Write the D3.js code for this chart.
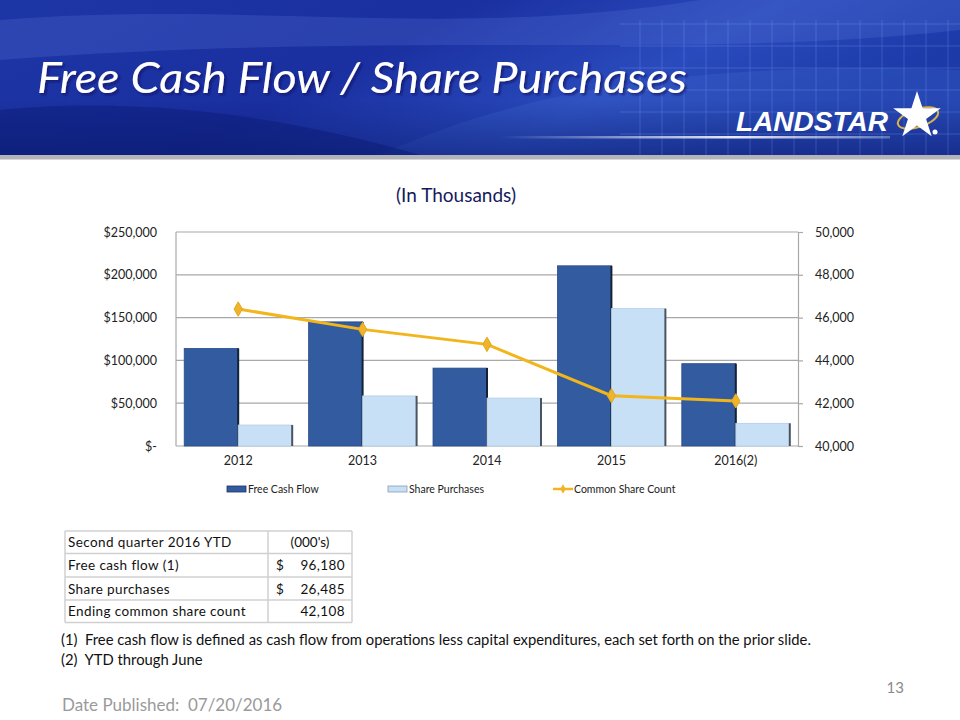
<!DOCTYPE html>
<html>
<head>
<meta charset="utf-8">
<script src="https://cdn.jsdelivr.net/npm/d3@7"></script>
<style>
  body { margin: 0; background: #fff; }
  svg { display: block; font-family: Lato, "Open Sans", sans-serif; }
</style>
</head>
<body>
<svg id="slide" width="960" height="720"></svg>
<script>
// chart data (thousands)
var years = ['2012', '2013', '2014', '2015', '2016(2)']
var freeCashFlow = [114000, 145000, 91000, 210500, 96180]
var sharePurchases = [24500, 58500, 56000, 160500, 26485]
var shareCount = [46400, 45450, 44750, 42350, 42108]
var leftTicks = [0, 50000, 100000, 150000, 200000, 250000]
var rightTicks = [40000, 42000, 44000, 46000, 48000, 50000]
var seriesNames = ['Free Cash Flow', 'Share Purchases', 'Common Share Count']

var tableRows = [
    ['Second quarter 2016 YTD', '', "(000's)"],
    ['Free cash flow (1)', '$', '96,180'],
    ['Share purchases', '$', '26,485'],
    ['Ending common share count', '', '42,108']
]
var footnotes = [
    '(1)  Free cash flow is defined as cash flow from operations less capital expenditures, each set forth on the prior slide.',
    '(2)  YTD through June'
]

var svg = d3.select('#slide')
var defs = svg.append('defs')

// ---------- header ----------
var hg = defs.append('linearGradient').attr('id', 'hdr')
    .attr('x1', 0).attr('y1', 0).attr('x2', 1).attr('y2', 0.3)
hg.append('stop').attr('offset', 0).attr('stop-color', '#1d36a6')
hg.append('stop').attr('offset', 0.45).attr('stop-color', '#1a2fa0')
hg.append('stop').attr('offset', 0.75).attr('stop-color', '#2a4bbd')
hg.append('stop').attr('offset', 1).attr('stop-color', '#1c3aa8')

var sh = defs.append('linearGradient').attr('id', 'shade')
    .attr('x1', 0).attr('y1', 0).attr('x2', 0).attr('y2', 1)
sh.append('stop').attr('offset', 0).attr('stop-color', '#0a1a70').attr('stop-opacity', 0)
sh.append('stop').attr('offset', 1).attr('stop-color', '#0a1a70').attr('stop-opacity', 0.55)

var glow = defs.append('linearGradient').attr('id', 'glow')
glow.append('stop').attr('offset', 0).attr('stop-color', '#fff').attr('stop-opacity', 0)
glow.append('stop').attr('offset', 0.6).attr('stop-color', '#fff').attr('stop-opacity', 0.9)
glow.append('stop').attr('offset', 1).attr('stop-color', '#fff').attr('stop-opacity', 0.3)

defs.append('filter').attr('id', 'tshadow')
    .append('feDropShadow')
    .attr('dx', 2).attr('dy', 2).attr('stdDeviation', 1)
    .attr('flood-color', '#0a1660').attr('flood-opacity', 0.7)

var header = svg.append('g')
header.append('rect').attr('width', 960).attr('height', 155).attr('fill', 'url(#hdr)')
// soft light streaks
header.append('path')
    .attr('d', 'M0,20 C250,0 450,40 700,0 L960,0 L960,30 C700,60 400,30 0,60 Z')
    .attr('fill', '#5a78d8').attr('opacity', 0.25)
header.append('path')
    .attr('d', 'M380,155 C520,90 700,60 960,70 L960,155 Z')
    .attr('fill', '#3d63cc').attr('opacity', 0.35)
header.append('path')
    .attr('d', 'M0,110 C150,95 300,120 420,155 L0,155 Z')
    .attr('fill', '#0b1b78').attr('opacity', 0.5)
header.append('rect').attr('y', 100).attr('width', 960).attr('height', 55).attr('fill', 'url(#shade)')

// grid on the right side of the header
var grid = header.append('g').attr('stroke', '#8fb0ff').attr('stroke-width', 0.7).attr('opacity', 0.35)
d3.range(640, 960, 22).forEach(function(gx) {
    grid.append('line').attr('x1', gx).attr('x2', gx).attr('y1', 20).attr('y2', 155)
})
d3.range(24, 156, 22).forEach(function(gy) {
    grid.append('line').attr('x1', 620).attr('x2', 960).attr('y1', gy).attr('y2', gy)
})

header.append('rect').attr('x', 500).attr('y', 136).attr('width', 390).attr('height', 2.5)
    .attr('fill', 'url(#glow)')
header.append('rect').attr('y', 155).attr('width', 960).attr('height', 5).attr('fill', '#b4b4b8')
header.append('rect').attr('y', 159).attr('width', 960).attr('height', 1).attr('fill', '#d8d8d8')

// title
header.append('text')
    .attr('x', 37).attr('y', 93)
    .attr('fill', '#fff')
    .attr('filter', 'url(#tshadow)')
    .style('font-size', '42px')
    .style('font-style', 'italic')
    .style('font-family', 'Lato, sans-serif')
    .attr('textLength', 650).attr('lengthAdjust', 'spacingAndGlyphs')
    .text('Free Cash Flow / Share Purchases')

// logo
var logo = header.append('g')
logo.append('text')
    .attr('x', 736).attr('y', 131)
    .attr('fill', '#fff')
    .style('font-size', '27px')
    .style('font-weight', 900)
    .style('font-style', 'italic')
    .style('font-family', '"Liberation Sans", Arial, sans-serif')
    .attr('textLength', 152).attr('lengthAdjust', 'spacingAndGlyphs')
    .text('LANDSTAR')
logo.append('ellipse')
    .attr('cx', 918).attr('cy', 118).attr('rx', 21).attr('ry', 9)
    .attr('transform', 'rotate(-18,918,118)')
    .attr('fill', 'none').attr('stroke', '#d9b44a').attr('stroke-width', 2)
logo.append('path')
    .attr('d', d3.symbol().type(d3.symbolStar).size(700)())
    .attr('transform', 'translate(917,116)')
    .attr('fill', '#fff')
logo.append('circle').attr('cx', 935).attr('cy', 132).attr('r', 2.5).attr('fill', '#fff')

// ---------- chart ----------
var plotLeft = 176, plotRight = 798, plotTop = 232, plotBottom = 446

svg.append('text')
    .attr('x', 456).attr('y', 202)
    .attr('text-anchor', 'middle')
    .attr('fill', '#151a5c')
    .style('font-size', '19px')
    .text('(In Thousands)')

var x = d3.scaleBand().domain(years).range([plotLeft, plotRight]).paddingInner(0.132).paddingOuter(0.066)
var x1 = d3.scaleBand().domain([0, 1]).range([0, x.bandwidth()])
var y = d3.scaleLinear().domain([0, 250000]).range([plotBottom, plotTop])
var yR = d3.scaleLinear().domain([40000, 50000]).range([plotBottom, plotTop])

var chart = svg.append('g')

// gridlines
chart.append('g').selectAll('line')
    .data(leftTicks)
    .enter()
    .append('line')
    .attr('x1', plotLeft).attr('x2', plotRight)
    .attr('y1', function(d) { return y(d) })
    .attr('y2', function(d) { return y(d) })
    .attr('stroke', '#a8a8a8')
    .attr('stroke-width', 1.2)

chart.append('line').attr('x1', plotLeft).attr('x2', plotLeft).attr('y1', plotTop).attr('y2', plotBottom)
    .attr('stroke', '#a8a8a8').attr('stroke-width', 1.2)

// left axis
var axL = chart.append('g').attr('transform', 'translate(' + plotLeft + ',0)')
    .call(d3.axisLeft(y).tickValues(leftTicks).tickSize(0).tickPadding(19)
        .tickFormat(function(d) { return d == 0 ? '$-' : '$' + d3.format(',')(d) }))
axL.select('.domain').remove()
axL.selectAll('text').style('font-size', '12.5px').style('font-family', 'Lato, sans-serif').attr('fill', '#222')

// right axis
var axR = chart.append('g').attr('transform', 'translate(' + plotRight + ',0)')
    .call(d3.axisRight(yR).tickValues(rightTicks).tickSize(5).tickPadding(12)
        .tickFormat(d3.format(',')))
axR.select('.domain').attr('stroke', '#a8a8a8').attr('stroke-width', 1.2)
axR.selectAll('line').attr('stroke', '#a8a8a8').attr('stroke-width', 1.2)
axR.selectAll('text').style('font-size', '12.5px').style('font-family', 'Lato, sans-serif').attr('fill', '#222')

// x axis labels
var axX = chart.append('g').attr('transform', 'translate(0,' + plotBottom + ')')
    .call(d3.axisBottom(x).tickSize(0).tickPadding(10))
axX.select('.domain').remove()
axX.selectAll('text').style('font-size', '12.5px').style('font-family', 'Lato, sans-serif').attr('fill', '#222')

// bars
var barColors = ['#325c9f', '#c8e0f6']
var edgeColors = ['#142238', '#4a5360']
var series = [freeCashFlow, sharePurchases]

series.forEach(function(vals, si) {
    var g = chart.append('g')
    g.selectAll('rect')
        .data(vals)
        .enter()
        .append('rect')
        .attr('x', function(d, i) { return x(years[i]) + x1(si) })
        .attr('y', function(d) { return y(d) })
        .attr('width', x1.bandwidth())
        .attr('height', function(d) { return plotBottom - y(d) })
        .attr('fill', barColors[si])
        .attr('stroke', si == 0 ? '#2a4d88' : '#b5cde6')
        .attr('stroke-width', 0.8)
    // dark right edge
    g.selectAll('line')
        .data(vals)
        .enter()
        .append('line')
        .attr('x1', function(d, i) { return x(years[i]) + x1(si) + x1.bandwidth() })
        .attr('x2', function(d, i) { return x(years[i]) + x1(si) + x1.bandwidth() })
        .attr('y1', function(d) { return y(d) })
        .attr('y2', plotBottom)
        .attr('stroke', edgeColors[si])
        .attr('stroke-width', 2)
})

// share count line
var line = d3.line()
    .x(function(d, i) { return x(years[i]) + x.bandwidth() / 2 })
    .y(function(d) { return yR(d) })

chart.append('path')
    .datum(shareCount)
    .attr('d', line)
    .attr('fill', 'none')
    .attr('stroke', '#f2b51b')
    .attr('stroke-width', 3)

chart.append('g').selectAll('path')
    .data(shareCount)
    .enter()
    .append('path')
    .attr('d', d3.symbol().type(d3.symbolDiamond).size(60)())
    .attr('transform', function(d, i) {
        return 'translate(' + (x(years[i]) + x.bandwidth() / 2) + ',' + yR(d) + ')'
    })
    .attr('fill', '#f0b428')
    .attr('stroke', '#e0a820')

// legend
var legend = svg.append('g').style('font-size', '10.5px').style('font-family', 'Lato, sans-serif')
var legX = [227, 388, 553]
seriesNames.forEach(function(name, i) {
    var lg = legend.append('g').attr('transform', 'translate(' + legX[i] + ',489)')
    if (i < 2) {
        lg.append('rect').attr('x', 0).attr('y', -3).attr('width', 19).attr('height', 6)
            .attr('fill', barColors[i]).attr('stroke', i == 0 ? '#1c3360' : '#8a9cb0').attr('stroke-width', 0.8)
    } else {
        lg.append('line').attr('x1', 0).attr('x2', 20).attr('y1', 0).attr('y2', 0)
            .attr('stroke', '#f2b51b').attr('stroke-width', 2.5)
        lg.append('path').attr('d', d3.symbol().type(d3.symbolDiamond).size(25)())
            .attr('transform', 'translate(10,0)').attr('fill', '#f0b428')
    }
    lg.append('text').attr('x', 21).attr('y', 4).attr('fill', '#222').text(name)
})

// ---------- table ----------
var table = svg.append('g').style('font-size', '13.5px').style('font-family', 'Lato, sans-serif')
var tLeft = 65, tMid = 268, tRight = 352, tTop = 531
var rowH = [22.5, 23.5, 23, 22.5]
var rowY = [tTop]
rowH.forEach(function(h, i) { rowY.push(rowY[i] + h) })

table.append('g').selectAll('line')
    .data(rowY)
    .enter()
    .append('line')
    .attr('x1', tLeft).attr('x2', tRight)
    .attr('y1', function(d) { return d }).attr('y2', function(d) { return d })
    .attr('stroke', '#d0d0d0').attr('stroke-width', 1.5)
;[tLeft, tMid, tRight].forEach(function(vx) {
    table.append('line').attr('x1', vx).attr('x2', vx).attr('y1', tTop).attr('y2', rowY[4])
        .attr('stroke', '#d0d0d0').attr('stroke-width', 1.5)
})

tableRows.forEach(function(r, i) {
    var cy = rowY[i] + rowH[i] / 2 + 5
    table.append('text').attr('x', tLeft + 3).attr('y', cy).attr('fill', '#111')
        .style('letter-spacing', '0.4px').text(r[0])
    if (i == 0) {
        table.append('text').attr('x', (tMid + tRight) / 2).attr('y', cy).attr('text-anchor', 'middle')
            .attr('fill', '#111').text(r[2])
    } else {
        table.append('text').attr('x', 276).attr('y', cy).attr('fill', '#111').text(r[1])
        table.append('text').attr('x', 345).attr('y', cy).attr('text-anchor', 'end')
            .attr('fill', '#111').style('letter-spacing', '0.4px').text(r[2])
    }
})

// ---------- footnotes ----------
svg.append('g').selectAll('text')
    .data(footnotes)
    .enter()
    .append('text')
    .attr('x', 61)
    .attr('y', function(d, i) { return 645 + i * 20 })
    .attr('fill', '#111')
    .style('font-size', '14.8px')
    .style('font-family', 'Lato, sans-serif')
    .attr('xml:space', 'preserve')
    .text(function(d) { return d })

svg.append('text').attr('x', 904).attr('y', 693).attr('text-anchor', 'end')
    .attr('fill', '#8a8a8a').style('font-size', '15px').text('13')

svg.append('text').attr('x', 62).attr('y', 711)
    .attr('fill', '#9a9a9a').style('font-size', '17px')
    .attr('xml:space', 'preserve')
    .text('Date Published:  07/20/2016')
</script>
</body>
</html>
